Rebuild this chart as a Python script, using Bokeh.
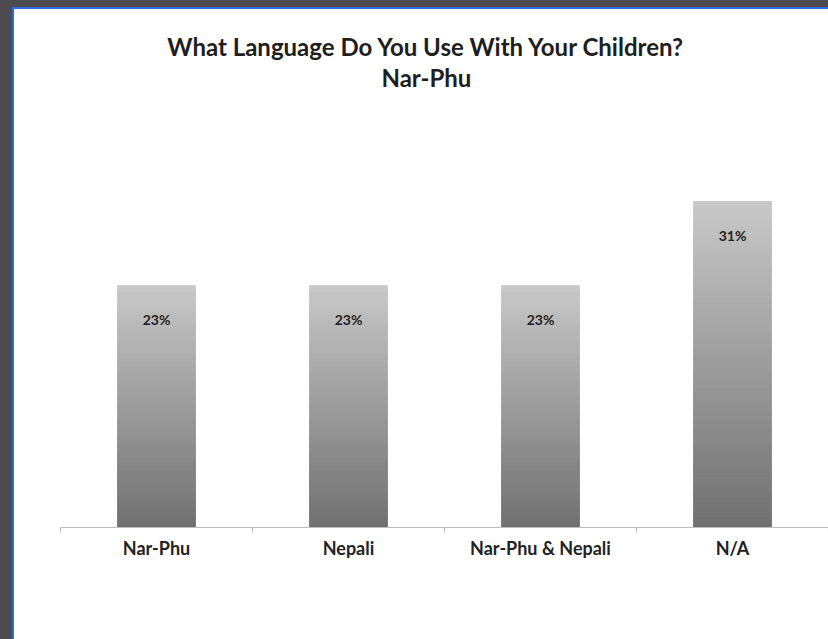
import numpy as np
from bokeh.plotting import figure
from bokeh.models import LinearAxis, FixedTicker, Range1d
from bokeh.layouts import column
from bokeh.embed import file_html
from bokeh.resources import INLINE
from bokeh.core.properties import value

# ---- data ----
categories = ["Nar-Phu", "Nepali", "Nar-Phu & Nepali", "N/A"]
percents = [23, 23, 23, 31]
value_labels = ["23%", "23%", "23%", "31%"]
title_lines = ["What Language Do You Use With Your Children?", "Nar-Phu"]

FONT = "Lato"
TOP_RGB = np.array([200, 200, 200])
BOT_RGB = np.array([112, 112, 112])
N_SLICES = 120

n_cat = len(categories)
centers = [i + 0.5 for i in range(n_cat)]          # category slot centres
boundaries = list(range(n_cat + 1))                 # slot edges

FIG_W, FIG_H = 814, 630
BORDER_L, BORDER_B = 46, 112
frame_h = FIG_H - BORDER_B
y_top = 35 * frame_h / 368.0          # keeps 368 px for 35 %

p = figure(width=FIG_W, height=FIG_H,
           x_range=Range1d(0, n_cat), y_range=Range1d(0, y_top),
           output_backend="svg", toolbar_location=None,
           x_axis_location=None, y_axis_location=None,
           min_border_left=BORDER_L, min_border_right=0,
           min_border_top=0, min_border_bottom=BORDER_B,
           background_fill_color="white", border_fill_color="white")
p.outline_line_color = None
p.grid.visible = False
p.styles = {"background-color": "white"}

# gradient bars built from thin slices of each value
xs, bottoms, tops, colors = [], [], [], []
for c, v in zip(centers, percents):
    edges = np.linspace(0, v, N_SLICES + 1)
    for k in range(N_SLICES):
        t = (k + 0.5) / N_SLICES
        rgb = (BOT_RGB + (TOP_RGB - BOT_RGB) * t).round().astype(int)
        xs.append(c)
        bottoms.append(edges[k])
        tops.append(edges[k + 1])
        colors.append("#%02x%02x%02x" % tuple(rgb))
p.vbar(x=xs, bottom=bottoms, top=tops, width=0.405,
       fill_color=colors, line_color=colors, line_width=1)

# value labels inside the bars
p.text(x=centers, y=percents, text=value_labels,
       text_font=value(FONT), text_font_style="bold", text_font_size="14px",
       text_color="#222222", text_align="center", text_baseline="middle",
       y_offset=34)

# two-line title (centred over the chart panel)
title_x = [1.906, 1.906]
title_y = [45.75, 42.8]
p.text(x=title_x, y=title_y, text=title_lines,
       text_font=value(FONT), text_font_style="bold", text_font_size="24px",
       text_color="#1e1e1e", text_align="center", text_baseline="alphabetic")

# axis with tick marks at category boundaries
ax1 = LinearAxis(ticker=FixedTicker(ticks=boundaries),
                 axis_line_color="#bdbdbd", axis_line_width=1.2,
                 major_tick_line_color="#bdbdbd", major_tick_line_width=1.2,
                 major_tick_in=0, major_tick_out=5,
                 minor_tick_line_color=None,
                 major_label_text_font_size="1px", major_label_text_color=None,
                 major_label_standoff=0)
ax1.major_label_overrides = {b: " " for b in boundaries}
p.add_layout(ax1, "below")

# category labels
ax2 = LinearAxis(ticker=FixedTicker(ticks=centers),
                 axis_line_color=None, major_tick_line_color=None,
                 minor_tick_line_color=None,
                 major_label_text_font=FONT,
                 major_label_text_font_style="bold",
                 major_label_text_font_size="18px",
                 major_label_text_color="#222222",
                 major_label_standoff=-2)
ax2.major_label_overrides = {c: cat for c, cat in zip(centers, categories)}
p.add_layout(ax2, "below")

p.margin = (2, 0, 0, 2)
inner = column(p, margin=(7, 0, 0, 12), styles={"background-color": "#2d6be0"})
outer = column(inner, width=828, height=639,
               styles={"background-color": "#4b4b50"})

open("out.html", "w").write(file_html(outer, INLINE))
